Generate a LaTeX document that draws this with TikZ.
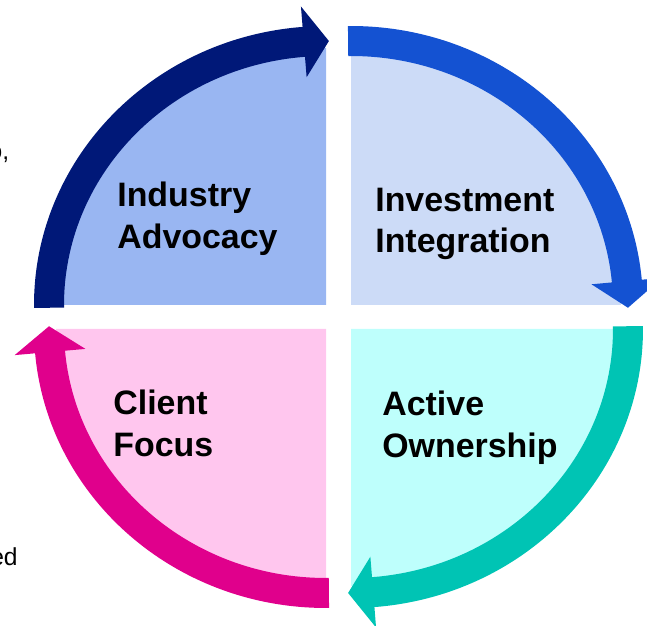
\documentclass[tikz,border=0pt]{standalone}
\usepackage{fontspec}
\setmainfont{Liberation Sans}
\definecolor{navyband}{RGB}{0,24,120}
\definecolor{navyfill}{RGB}{153,182,242}
\definecolor{blueband}{RGB}{20,82,210}
\definecolor{bluefill}{RGB}{204,219,247}
\definecolor{tealband}{RGB}{0,196,180}
\definecolor{tealfill}{RGB}{190,255,252}
\definecolor{pinkband}{RGB}{224,0,140}
\definecolor{pinkfill}{RGB}{255,198,238}
\tikzstyle{quadlabel} = [font=\bfseries\fontsize{19.3}{23.8}\selectfont,
    align=left, anchor=west, inner sep=0pt]
\tikzstyle{sidetext} = [font=\fontsize{14}{17}\selectfont,
    anchor=base east, inner sep=0pt]

\begin{document}
\begin{tikzpicture}[x=0.02cm, y=0.02cm]
    \useasboundingbox (0,0) rectangle (647,626);
    % quarter fills
    \fill[navyfill] (326,321) -- ++(-270,0) arc[start angle=180, end angle=90, x radius=270, y radius=257] -- cycle;
    \fill[bluefill] (351,321) -- ++(0,257) arc[start angle=90, end angle=0, x radius=270, y radius=257] -- cycle;
    \fill[tealfill] (351,297) -- ++(270,0) arc[start angle=0, end angle=-90, x radius=270, y radius=257] -- cycle;
    \fill[pinkfill] (326,297) -- ++(0,-257) arc[start angle=270, end angle=180, x radius=270, y radius=257] -- cycle;
    % arrow bands
    \fill[navyband, shift={(326,321)}] (180.6:292 and 279)
        arc[start angle=180.6, end angle=94.6, x radius=292, y radius=279]
        -- (94.6:312.5 and 299.5) -- (89.4:277 and 264) -- (94.6:241.5 and 228.5)
        -- (94.6:262 and 249)
        arc[start angle=94.6, end angle=180.6, x radius=262, y radius=249] -- cycle;
    \fill[blueband, shift={(351,321)}] (90.6:292 and 279)
        arc[start angle=90.6, end angle=5.2, x radius=292, y radius=279]
        -- (5.2:312.5 and 299.5) -- (-0.6:277 and 264) -- (5.2:241.5 and 228.5)
        -- (5.2:262 and 249)
        arc[start angle=5.2, end angle=90.6, x radius=262, y radius=249] -- cycle;
    \fill[tealband, shift={(351,297)}] (0.6:292 and 279)
        arc[start angle=0.6, end angle=-85.4, x radius=292, y radius=279]
        -- (-85.4:312.5 and 299.5) -- (-90.6:277 and 264) -- (-85.4:241.5 and 228.5)
        -- (-85.4:262 and 249)
        arc[start angle=-85.4, end angle=0.6, x radius=262, y radius=249] -- cycle;
    \fill[pinkband, shift={(326,297)}] (270.6:292 and 279)
        arc[start angle=270.6, end angle=185, x radius=292, y radius=279]
        -- (185:312.5 and 299.5) -- (179.4:277 and 264) -- (185:241.5 and 228.5)
        -- (185:262 and 249)
        arc[start angle=185, end angle=270.6, x radius=262, y radius=249] -- cycle;
    % labels
    \node [quadlabel] (advocacy) at (117,407) {Industry\\Advocacy};
    \node [quadlabel] (integration) at (375,402) {Investment\\Integration};
    \node [quadlabel] (client) at (113,203) {Client\\Focus};
    \node [quadlabel] (ownership) at (382,198) {Active\\Ownership};
    % cut-off text at the left edge
    \node [sidetext] (cuttop) at (9.5,466) {o,};
    \node [sidetext] (cutbottom) at (18,60) {ed};
\end{tikzpicture}
\end{document}
